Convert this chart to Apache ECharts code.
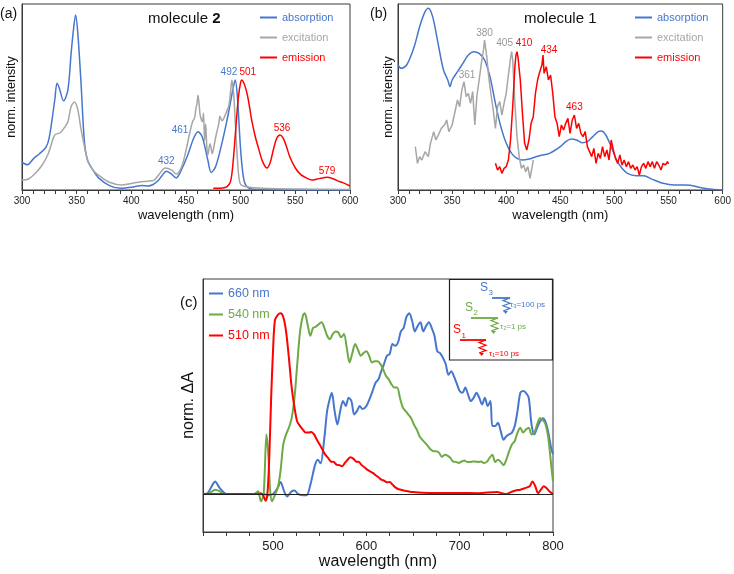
<!DOCTYPE html>
<html>
<head>
<meta charset="utf-8">
<script src="https://cdn.jsdelivr.net/npm/echarts@6/dist/echarts.min.js"></script>
<style>
  html, body { margin: 0; padding: 0; background: #fff; }
  #main { width: 734px; height: 574px; }
</style>
</head>
<body>
<div id="main"></div>
<script>
// ---- data: [wavelength (nm), normalised value] ----
// panel (a) molecule 2
var absA = [[300,0.25],[305,0.23],[311,0.29],[316,0.33],[322,0.39],[325,0.48],[330,0.82],[332,0.97],[334,0.93],[338,0.81],[342,0.91],[345,1.25],[347,1.45],[349,1.59],[351,1.43],[354,0.97],[357,0.45],[360,0.27],[365,0.18],[370,0.11],[380,0.04],[390,0.015],[400,0.025],[410,0.04],[415,0.036],[420,0.05],[425,0.09],[428,0.13],[432,0.17],[436,0.15],[441,0.11],[447,0.21],[452,0.33],[457,0.47],[461,0.53],[465,0.48],[470,0.27],[473,0.16],[477,0.21],[482,0.39],[487,0.61],[490,0.76],[493,0.92],[495,1.0],[497,0.85],[500,0.36],[503,0.09],[507,0.02],[515,0.005],[530,0.003],[560,0.001],[600,0]];
var excA = [[300,0.09],[306,0.10],[312,0.15],[318,0.22],[324,0.33],[330,0.50],[335,0.52],[339,0.57],[342,0.62],[345,0.76],[348,0.80],[351,0.73],[354,0.55],[356,0.45],[360,0.27],[365,0.18],[372,0.12],[380,0.07],[391,0.045],[400,0.06],[409,0.076],[415,0.08],[421,0.09],[426,0.15],[431,0.20],[437,0.18],[441,0.145],[446,0.21],[450,0.36],[453,0.50],[456,0.62],[458,0.66],[459,0.74],[460,0.78],[461,0.86],[462,0.78],[463,0.68],[465,0.62],[466,0.70],[467,0.45],[468,0.60],[469,0.40],[470,0.32],[472,0.42],[473,0.38],[474,0.33],[476,0.42],[478,0.52],[480,0.60],[481,0.67],[483,0.63],[485,0.66],[487,0.71],[489,0.76],[490,0.82],[491,0.92],[492,1.0],[493,0.93],[494,0.82],[496,0.45],[498,0.15],[500,0.05],[505,0.03],[520,0.015],[550,0.008],[600,0.004]];
var emiA = [[475,0.015],[485,0.02],[490,0.06],[492,0.15],[494,0.36],[496,0.62],[498,0.85],[500,0.98],[501,1.0],[503,0.97],[505,0.91],[507,0.82],[510,0.64],[513,0.50],[516,0.39],[520,0.26],[524,0.20],[527,0.25],[530,0.37],[533,0.47],[536,0.50],[539,0.47],[542,0.39],[545,0.30],[550,0.20],[555,0.14],[560,0.11],[565,0.09],[570,0.10],[575,0.11],[579,0.115],[585,0.10],[590,0.078],[595,0.06],[600,0.036]];

// panel (b) molecule 1
var absB = [[300,0.75],[303,0.73],[308,0.75],[315,0.86],[320,0.98],[325,1.07],[328,1.09],[332,1.04],[337,0.88],[342,0.72],[346,0.66],[348,0.62],[350,0.66],[355,0.71],[360,0.76],[365,0.81],[370,0.83],[375,0.82],[380,0.78],[385,0.68],[390,0.52],[395,0.38],[400,0.28],[405,0.22],[410,0.19],[415,0.18],[420,0.184],[430,0.204],[440,0.22],[450,0.26],[455,0.29],[460,0.306],[465,0.30],[470,0.284],[475,0.29],[480,0.32],[485,0.35],[488,0.354],[492,0.33],[497,0.26],[502,0.18],[507,0.13],[512,0.10],[520,0.086],[527,0.086],[535,0.064],[545,0.04],[555,0.03],[565,0.03],[570,0.028],[580,0.014],[590,0.004],[600,0]];
var excB = [[316,0.26],[318,0.16],[320,0.20],[322,0.18],[325,0.23],[328,0.20],[330,0.28],[333,0.35],[335,0.30],[338,0.34],[340,0.37],[343,0.39],[345,0.42],[347,0.35],[350,0.39],[353,0.48],[355,0.54],[357,0.50],[359,0.60],[361,0.65],[363,0.56],[365,0.58],[367,0.52],[369,0.59],[371,0.39],[373,0.57],[375,0.66],[377,0.76],[379,0.84],[380,0.90],[382,0.80],[384,0.67],[386,0.57],[388,0.48],[390,0.37],[392,0.50],[394,0.53],[396,0.45],[398,0.52],[400,0.58],[402,0.69],[404,0.79],[405,0.83],[406,0.78],[408,0.52],[410,0.32],[412,0.20],[414,0.13],[416,0.15],[418,0.11],[420,0.14],[422,0.07],[424,0.14],[425,0.18]];
var emiB = [[390,0.16],[392,0.12],[394,0.14],[396,0.10],[398,0.13],[400,0.14],[402,0.18],[404,0.30],[406,0.50],[408,0.74],[409,0.81],[410,0.83],[411,0.79],[413,0.66],[415,0.46],[417,0.28],[419,0.24],[421,0.30],[423,0.40],[425,0.44],[427,0.58],[429,0.66],[431,0.71],[433,0.75],[434,0.81],[435,0.70],[437,0.74],[439,0.66],[441,0.69],[443,0.58],[445,0.44],[447,0.40],[449,0.32],[451,0.39],[453,0.36],[455,0.40],[457,0.43],[459,0.34],[461,0.42],[463,0.45],[465,0.37],[467,0.40],[469,0.34],[471,0.32],[473,0.35],[475,0.26],[477,0.23],[479,0.20],[481,0.25],[483,0.16],[485,0.22],[487,0.19],[489,0.26],[491,0.20],[493,0.24],[495,0.18],[497,0.30],[499,0.24],[501,0.19],[503,0.16],[505,0.21],[507,0.15],[509,0.18],[511,0.14],[513,0.17],[515,0.13],[517,0.15],[519,0.12],[521,0.14],[523,0.09],[525,0.14],[527,0.16],[529,0.13],[531,0.17],[533,0.14],[535,0.17],[537,0.13],[539,0.17],[541,0.15],[543,0.12],[545,0.16],[547,0.15],[549,0.17],[550,0.156]];

// panel (c) transient absorption, norm. dA
var ta660 = [[425,0],[430,0.005],[434,0.04],[438,0.07],[442,0.04],[446,0.015],[450,0],[480,0],[490,0],[495,-0.007],[500,0],[505,0.033],[508,0.067],[512,0.015],[515,-0.013],[520,0.015],[523,0.019],[527,0],[533,-0.007],[536,-0.007],[540,0.05],[545,0.16],[548,0.19],[551,0.17],[555,0.31],[558,0.46],[561,0.53],[563,0.56],[566,0.46],[569,0.385],[572,0.46],[575,0.515],[578,0.487],[581,0.533],[584,0.515],[587,0.44],[590,0.46],[593,0.487],[596,0.47],[600,0.487],[603,0.52],[606,0.56],[610,0.617],[613,0.635],[616,0.68],[619,0.72],[622,0.765],[625,0.775],[628,0.83],[631,0.82],[634,0.84],[637,0.90],[640,0.92],[643,0.98],[646,1.0],[649,0.96],[652,0.90],[655,0.93],[658,0.95],[661,0.90],[664,0.93],[667,0.95],[670,0.92],[673,0.876],[676,0.79],[679,0.78],[682,0.755],[685,0.72],[688,0.66],[691,0.68],[694,0.65],[697,0.61],[700,0.57],[703,0.56],[706,0.59],[709,0.55],[712,0.515],[715,0.533],[718,0.56],[721,0.533],[724,0.496],[727,0.533],[730,0.487],[733,0.515],[735,0.376],[738,0.376],[741,0.394],[744,0.348],[747,0.30],[750,0.32],[753,0.33],[756,0.34],[759,0.376],[762,0.46],[765,0.56],[768,0.57],[771,0.56],[774,0.533],[777,0.385],[780,0.33],[783,0.367],[786,0.40],[789,0.42],[792,0.40],[795,0.34],[798,0.255],[800,0.22]];
var ta540 = [[425,0],[432,0.005],[438,0.024],[443,0.015],[448,0],[480,0],[484,0.015],[487,-0.04],[490,0],[493,0.33],[495,0.22],[497,0.015],[499,-0.04],[502,-0.004],[505,0.033],[508,0.126],[511,0.274],[514,0.33],[517,0.367],[520,0.42],[523,0.53],[526,0.72],[529,0.90],[532,0.987],[534,1.0],[537,0.94],[540,0.876],[543,0.92],[546,0.926],[549,0.94],[552,0.95],[555,0.92],[558,0.876],[561,0.857],[564,0.885],[567,0.90],[570,0.894],[573,0.867],[576,0.885],[579,0.81],[582,0.728],[585,0.78],[588,0.83],[591,0.80],[594,0.765],[597,0.78],[600,0.79],[603,0.765],[606,0.728],[609,0.735],[612,0.735],[615,0.72],[618,0.69],[621,0.654],[624,0.635],[627,0.607],[630,0.59],[633,0.59],[636,0.533],[639,0.48],[642,0.46],[645,0.44],[648,0.42],[651,0.385],[654,0.357],[657,0.32],[660,0.30],[663,0.283],[666,0.265],[669,0.246],[672,0.237],[675,0.237],[678,0.228],[681,0.205],[684,0.218],[687,0.213],[690,0.20],[693,0.18],[696,0.178],[699,0.172],[702,0.18],[705,0.185],[708,0.178],[711,0.178],[714,0.18],[717,0.18],[720,0.178],[723,0.18],[726,0.172],[729,0.178],[732,0.20],[735,0.218],[738,0.178],[741,0.19],[744,0.178],[747,0.16],[750,0.19],[753,0.237],[756,0.274],[759,0.293],[762,0.34],[765,0.367],[768,0.34],[771,0.357],[774,0.367],[777,0.33],[780,0.34],[783,0.385],[786,0.42],[789,0.41],[792,0.385],[795,0.31],[798,0.163],[800,0.07]];
var ta510 = [[425,0],[484,0],[487,0.005],[490,-0.013],[492,-0.037],[494,0],[496,0.2],[498,0.53],[500,0.79],[502,0.96],[505,0.99],[508,1.0],[511,0.98],[514,0.90],[517,0.755],[520,0.59],[523,0.48],[526,0.40],[529,0.376],[532,0.357],[535,0.34],[538,0.34],[541,0.344],[544,0.33],[547,0.30],[550,0.274],[553,0.246],[556,0.218],[559,0.20],[562,0.18],[565,0.178],[568,0.163],[571,0.16],[574,0.154],[577,0.172],[580,0.19],[583,0.204],[586,0.196],[589,0.18],[592,0.178],[595,0.16],[598,0.148],[601,0.135],[604,0.126],[607,0.117],[610,0.104],[613,0.093],[616,0.08],[619,0.074],[622,0.065],[625,0.067],[628,0.052],[631,0.037],[634,0.028],[637,0.024],[640,0.02],[645,0.015],[650,0.011],[660,0.007],[680,0.006],[700,0.006],[720,0.005],[740,0.011],[745,0.005],[750,0],[755,0.011],[760,0.02],[765,0.024],[770,0.033],[775,0.043],[778,0.07],[781,0.043],[784,0.005],[787,0.024],[790,0.043],[793,0.033],[796,0.015],[800,0]];

// peak annotations (wavelengths written on the curves)
var peaksAbsA = [432, 461, 492];
var peaksEmiA = [501, 536, 579];
var peaksExcB = [361, 380, 405];
var peaksEmiB = [410, 434, 463];

// ---- styles ----
var BLUE = '#4677cc', GRAY = '#a6a6a6', RED = '#ff0000', GREEN = '#6eaa44';
var FONT = 'Liberation Sans, Arial, Helvetica, sans-serif';
var AXIS = '#3a3a3a';

// label offsets in px, relative to the curve point at that wavelength
var offs = {
  432: [0, -10], 461: [-18, -1], 492: [-3, -22],
  501: [6, -8], 536: [2, -7], 579: [0, -6],
  361: [3, -6], 380: [0, -7], 405: [-7, -8],
  410: [7, -8], 434: [6, -5], 463: [0, -8]
};

function valueAt(data, x) {
  for (var i = 1; i < data.length; i++) {
    if (data[i][0] >= x) {
      var a = data[i - 1], b = data[i];
      return a[1] + (b[1] - a[1]) * (x - a[0]) / (b[0] - a[0]);
    }
  }
  return data[data.length - 1][1];
}

function peakMarks(data, peaks, color) {
  return {
    symbol: 'circle',
    symbolSize: 1,
    itemStyle: { color: 'rgba(0,0,0,0)' },
    label: { show: true, position: 'inside', color: color, fontSize: 10, fontFamily: FONT, formatter: '{b}' },
    data: peaks.map(function (p) {
      return { name: String(p), coord: [p, valueAt(data, p)], label: { offset: offs[p] } };
    })
  };
}

function xAx(grid, min, max, interval, minor, fontSize, margin, nameSize, nameGap, fmt) {
  return {
    gridIndex: grid, type: 'value', min: min, max: max, interval: interval,
    axisLine: { onZero: false, lineStyle: { color: AXIS, width: 1 } },
    axisTick: { length: 4, lineStyle: { color: AXIS } },
    minorTick: { show: minor > 0, splitNumber: minor || 5, length: 4, lineStyle: { color: AXIS } },
    splitLine: { show: false },
    axisLabel: { fontSize: fontSize, color: '#222', margin: margin, fontFamily: FONT, formatter: fmt },
    name: 'wavelength (nm)', nameLocation: 'middle', nameGap: nameGap,
    nameTextStyle: { fontSize: nameSize, color: '#111', fontFamily: FONT }
  };
}

function yAx(grid, min, max, name, nameSize, nameGap) {
  return {
    gridIndex: grid, type: 'value', min: min, max: max,
    axisLine: { show: true, onZero: false, lineStyle: { color: AXIS } },
    axisTick: { show: false }, axisLabel: { show: false }, splitLine: { show: false },
    name: name, nameLocation: 'middle', nameGap: nameGap,
    nameTextStyle: { fontSize: nameSize, color: '#111', fontFamily: FONT }
  };
}

function line(name, data, color, x, y, width, smooth) {
  return {
    name: name, type: 'line', xAxisIndex: x, yAxisIndex: y, data: data,
    showSymbol: false, smooth: smooth, lineStyle: { color: color, width: width },
    itemStyle: { color: color }
  };
}

function zigzag(x0, y0, x1, n) {
  // small squiggle arrow drawn in the inset (relaxation symbol)
  var pts = [[x0, y0]];
  for (var i = 1; i <= n; i++) pts.push([i % 2 ? x1 : x0, y0 + i * 2.6]);
  return pts;
}

var series = [
  line('absorption', absA, BLUE, 0, 0, 1.5, 0.3),
  line('excitation', excA, GRAY, 0, 0, 1.5, 0.3),
  line('emission', emiA, RED, 0, 0, 1.5, 0.3),
  line('absorption', absB, BLUE, 1, 1, 1.5, 0.3),
  line('excitation', excB, GRAY, 1, 1, 1.5, false),
  line('emission', emiB, RED, 1, 1, 1.5, false),
  line('660 nm', ta660, BLUE, 2, 2, 2, 0.3),
  line('540 nm', ta540, GREEN, 2, 2, 2, 0.3),
  line('510 nm', ta510, RED, 2, 2, 2, 0.3)
];
series[0].markPoint = peakMarks(absA, peaksAbsA, BLUE);
series[2].markPoint = peakMarks(emiA, peaksEmiA, RED);
series[4].markPoint = peakMarks(excB, peaksExcB, '#999');
series[5].markPoint = peakMarks(emiB, peaksEmiB, RED);
series[6].markLine = {
  silent: true, symbol: 'none', label: { show: false },
  lineStyle: { color: '#222', width: 1, type: 'solid' },
  data: [{ yAxis: 0 }]
};
series[6].z = 1;

function legendOf(names, colors, left, top, w, fs, gap) {
  return {
    orient: 'vertical', left: left, top: top, icon: 'rect',
    itemWidth: w, itemHeight: 2, itemGap: gap, padding: 0,
    textStyle: { fontSize: fs, fontFamily: FONT },
    data: names.map(function (n, i) { return { name: n, textStyle: { color: colors[i] } }; })
  };
}

var option = {
  animation: false,
  backgroundColor: '#fff',
  textStyle: { fontFamily: FONT },
  grid: [
    { left: 22, top: 4, width: 328, height: 186, show: true, borderColor: AXIS, borderWidth: 1 },
    { left: 398, top: 4, width: 326, height: 186, show: true, borderColor: AXIS, borderWidth: 1 },
    { left: 203, top: 279, width: 350, height: 253, show: true, borderColor: AXIS, borderWidth: 1 }
  ],
  xAxis: [
    xAx(0, 300, 600, 50, 5, 10, 6, 13, 19),
    xAx(1, 300, 600, 50, 5, 10, 6, 13, 19),
    xAx(2, 425, 800, 25, 0, 13, 8, 16, 22, function (v) { return v % 100 === 0 ? v : ''; })
  ],
  yAxis: [
    yAx(0, 0, 1.69, 'norm. intensity', 12.5, 4),
    yAx(1, 0, 1.116, 'norm. intensity', 12.5, 3),
    yAx(2, -0.21, 1.19, 'norm. ΔA', 16, 6)
  ],
  legend: [
    legendOf(['absorption', 'excitation', 'emission'], [BLUE, GRAY, RED], 260, 12, 17, 11, 9),
    legendOf(['absorption', 'excitation', 'emission'], [BLUE, GRAY, RED], 635, 12, 17, 11, 9),
    legendOf(['660 nm', '540 nm', '510 nm'], [BLUE, GREEN, RED], 209, 287, 14, 12.5, 8)
  ],
  title: [
    { text: 'molecule {b|2}', left: 148, top: 11, padding: 0,
      textStyle: { fontSize: 15, fontWeight: 'normal', color: '#111', fontFamily: FONT,
        rich: { b: { fontSize: 15, fontWeight: 'bold', color: '#111', fontFamily: FONT } } } },
    { text: 'molecule 1', left: 524, top: 11, padding: 0,
      textStyle: { fontSize: 15, fontWeight: 'normal', color: '#111', fontFamily: FONT } },
    { text: '(a)', left: 0, top: 7, padding: 0, textStyle: { fontSize: 14, fontWeight: 'normal', color: '#111' } },
    { text: '(b)', left: 370, top: 7, padding: 0, textStyle: { fontSize: 14, fontWeight: 'normal', color: '#111' } },
    { text: '(c)', left: 180, top: 295, padding: 0, textStyle: { fontSize: 15, fontWeight: 'normal', color: '#111' } }
  ],
  graphic: [
    // energy level inset in panel (c)
    { type: 'rect', z: 50, shape: { x: 449.5, y: 279.5, width: 103, height: 80.5 },
      style: { fill: '#fff', stroke: '#222', lineWidth: 1.2 } },
    { type: 'text', z: 51, x: 480, y: 282, style: { text: 'S', fill: BLUE, font: '12px ' + FONT } },
    { type: 'text', z: 51, x: 488.5, y: 289, style: { text: '3', fill: BLUE, font: '8px ' + FONT } },
    { type: 'line', z: 51, shape: { x1: 492, y1: 298, x2: 510, y2: 298 }, style: { stroke: BLUE, lineWidth: 1.8 } },
    { type: 'polyline', z: 51, shape: { points: zigzag(510, 298, 503, 5) }, style: { stroke: BLUE, lineWidth: 1.2, fill: null } },
    { type: 'polygon', z: 51, shape: { points: [[503.5, 311], [508, 311], [505.5, 314]] }, style: { fill: BLUE } },
    { type: 'text', z: 51, x: 510, y: 301, style: { text: 'τ₃=100 ps', fill: BLUE, font: '8px ' + FONT } },

    { type: 'text', z: 51, x: 465, y: 302, style: { text: 'S', fill: GREEN, font: '12px ' + FONT } },
    { type: 'text', z: 51, x: 473.5, y: 309, style: { text: '2', fill: GREEN, font: '8px ' + FONT } },
    { type: 'line', z: 51, shape: { x1: 471, y1: 318, x2: 498, y2: 318 }, style: { stroke: GREEN, lineWidth: 1.8 } },
    { type: 'polyline', z: 51, shape: { points: zigzag(498, 318, 491, 5) }, style: { stroke: GREEN, lineWidth: 1.2, fill: null } },
    { type: 'polygon', z: 51, shape: { points: [[491.5, 331], [496, 331], [493.5, 334]] }, style: { fill: GREEN } },
    { type: 'text', z: 51, x: 500, y: 323, style: { text: 'τ₂=1 ps', fill: GREEN, font: '8px ' + FONT } },

    { type: 'text', z: 51, x: 453, y: 324, style: { text: 'S', fill: RED, font: '12px ' + FONT } },
    { type: 'text', z: 51, x: 461.5, y: 332, style: { text: '1', fill: RED, font: '8px ' + FONT } },
    { type: 'line', z: 51, shape: { x1: 460, y1: 340, x2: 486, y2: 340 }, style: { stroke: RED, lineWidth: 1.8 } },
    { type: 'polyline', z: 51, shape: { points: zigzag(486, 340, 479, 5) }, style: { stroke: RED, lineWidth: 1.2, fill: null } },
    { type: 'polygon', z: 51, shape: { points: [[479.5, 353], [484, 353], [481.5, 356]] }, style: { fill: RED } },
    { type: 'text', z: 51, x: 489, y: 350, style: { text: 'τ₁=10 ps', fill: RED, font: '8px ' + FONT } }
  ],
  series: series
};

var myChart = echarts.init(document.getElementById('main'));
myChart.setOption(option);
</script>
</body>
</html>
